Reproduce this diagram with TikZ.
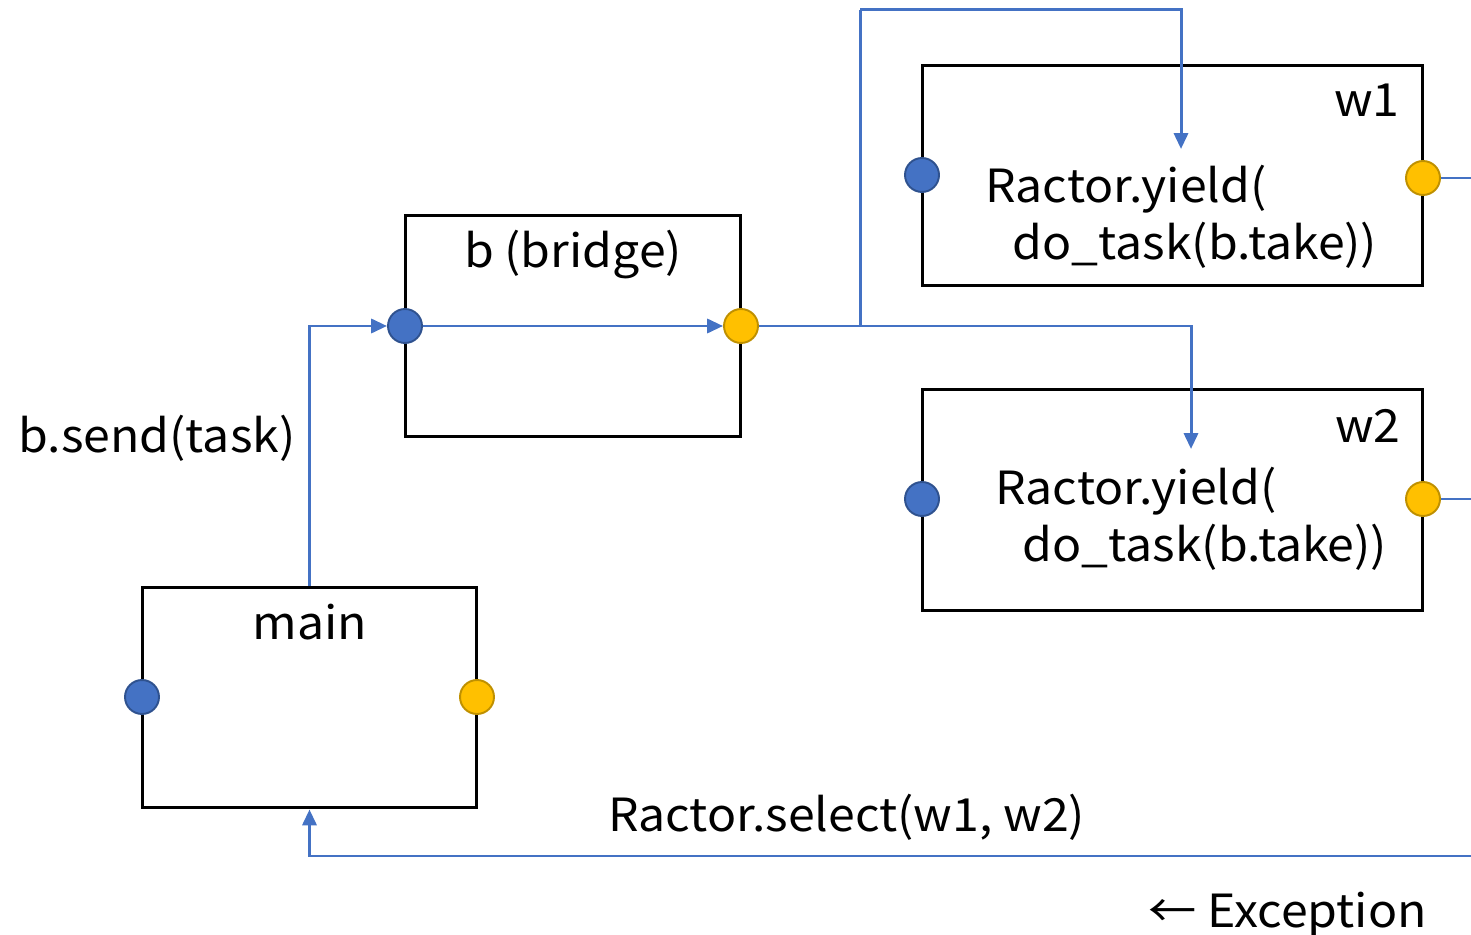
\documentclass[tikz,border=0pt]{standalone}
\usepackage{fontspec}
\setmainfont[FakeStretch=1.055]{Noto Sans CJK JP}
\usetikzlibrary{arrows.meta}

\definecolor{linkblue}{HTML}{4472C4}
\definecolor{portblue}{HTML}{2F528F}
\definecolor{portgold}{HTML}{FFC000}
\definecolor{rimgold}{HTML}{BF9000}

\tikzset{
  actor/.style={draw=black, line width=1.7pt, minimum width=#1, minimum height=4.42cm, inner sep=0pt},
  inport/.style={circle, fill=linkblue, draw=portblue, line width=1.1pt, minimum size=0.68cm, inner sep=0pt},
  outport/.style={circle, fill=portgold, draw=rimgold, line width=1.1pt, minimum size=0.68cm, inner sep=0pt},
  flow/.style={draw=linkblue, line width=1.7pt},
  flowtip/.style={-{Triangle[length=9pt,width=8pt]}},
  lbl/.style={font=\fontsize{26}{30}\selectfont, inner sep=0pt}
}

\begin{document}
\begin{tikzpicture}[x=0.02cm, y=-0.02cm]
            \useasboundingbox (0,0) rectangle (1471,935);
            % boxes
            \node[actor=6.7cm] (main) at (309.5,697.5) {};
            \node[actor=6.72cm] (bridge) at (573,326) {};
            \node[actor=10.02cm] (w1) at (1172.5,175.5) {};
            \node[actor=10.02cm] (w2) at (1172.5,500) {};
            % ports
            \node[inport] (mainin) at (142,697) {};
            \node[outport] (mainout) at (477,697) {};
            \node[inport] (bin) at (405,326) {};
            \node[outport] (bout) at (741,326) {};
            \node[inport] (w1in) at (922,175) {};
            \node[outport] (w1out) at (1423,178) {};
            \node[inport] (w2in) at (922,499) {};
            \node[outport] (w2out) at (1423,499) {};
            % texts
            \node[lbl, anchor=base] (mainname) at (310,640) {main};
            \node[lbl, anchor=base] (bridgename) at (573,268) {b (bridge)};
            \node[lbl, anchor=base east] (w1name) at (1400,117) {w1};
            \node[lbl, anchor=base east] (w2name) at (1401,443) {w2};
            \node[lbl, anchor=base west] (w1code) at (985,203) {Ractor.yield(};
            \node[lbl, anchor=base west] (w1task) at (1012,260) {do\_task(b.take))};
            \node[lbl, anchor=base west] (w2code) at (995,505) {Ractor.yield(};
            \node[lbl, anchor=base west] (w2task) at (1022,562) {do\_task(b.take))};
            \node[lbl, anchor=base west] (send) at (18,453) {b.send(task)};
            \node[lbl, anchor=base west] (select) at (608,831) {Ractor.select(w1, w2)};
            \node[lbl, anchor=base east] (exc) at (1427,927) {← Exception};
            % connectors
            \coordinate (split) at (860,326);
            \coordinate (turn) at (860,10);
            \coordinate (w1drop) at (1181,149);
            \coordinate (w2drop) at (1191,449);
            \coordinate (w1edge) at (1471,178);
            \coordinate (w2edge) at (1471,499);
            \coordinate (backedge) at (1471,856);
            \draw[flow, flowtip] (main.north) |- (bin.west);
            \draw[flow, flowtip] (bin.east) -- (bout.west);
            \draw[flow] (bout.east) -- (split) -- (turn);
            \draw[flow, flowtip] (turn) -| (w1drop);
            \draw[flow, flowtip] (split) -| (w2drop);
            \draw[flow] (w1out.east) -- (w1edge);
            \draw[flow] (w2out.east) -- (w2edge);
            \draw[flow, flowtip] (backedge) -| (main.south);
        \end{tikzpicture}
\end{document}
